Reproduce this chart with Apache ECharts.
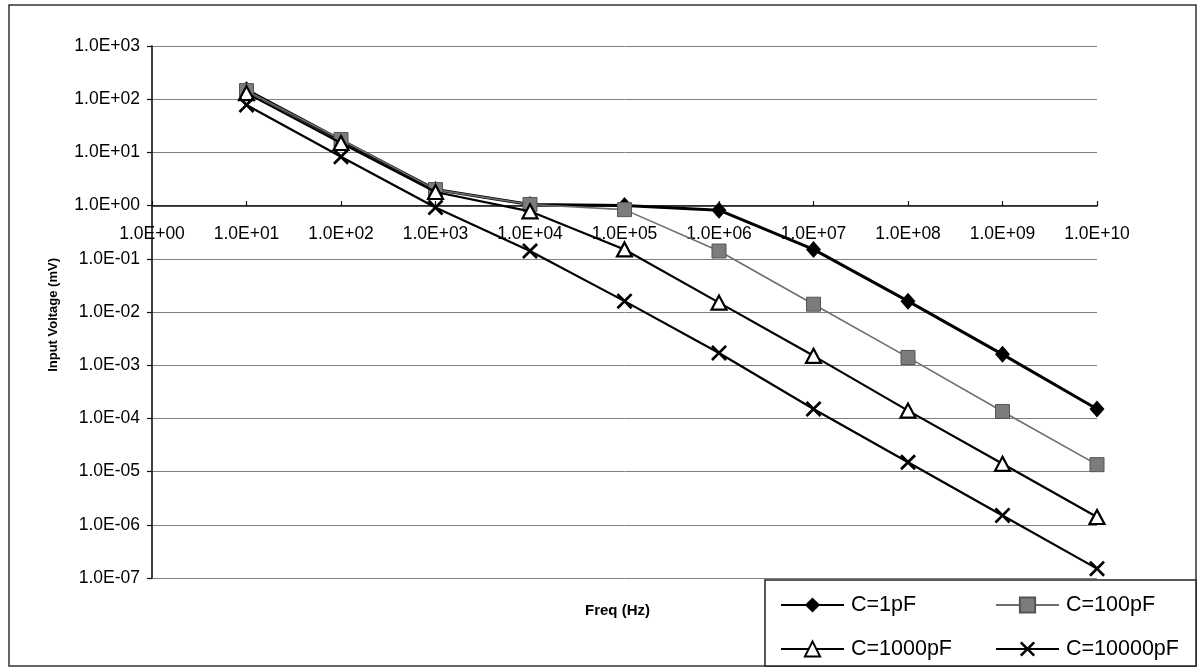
<!DOCTYPE html>
<html>
<head>
<meta charset="utf-8">
<script src="https://cdn.jsdelivr.net/npm/echarts@6/dist/echarts.min.js"></script>
<style>
html,body{margin:0;padding:0;background:#fff;}
#chart{width:1203px;height:672px;}
</style>
</head>
<body>
<div id="chart"></div>
<script>
// ---- data ----
const freqs = [1e1, 1e2, 1e3, 1e4, 1e5, 1e6, 1e7, 1e8, 1e9, 1e10];
const seriesNames = ['C=1pF', 'C=100pF', 'C=1000pF', 'C=10000pF'];
const c1pF     = [150, 17, 2.0, 1.05, 1.0, 0.82, 0.15, 0.016, 0.0016, 0.00015];
const c100pF   = [145, 17.5, 2.0, 1.05, 0.84, 0.14, 0.014, 0.0014, 0.000135, 0.0000135];
const c1000pF  = [130, 15, 1.8, 0.78, 0.15, 0.015, 0.0015, 0.00014, 0.000014, 0.0000014];
const c10000pF = [78, 8.3, 0.92, 0.14, 0.016, 0.0017, 0.00015, 0.000015, 0.0000015, 0.00000015];
const xTickLabels = ['1.0E+00','1.0E+01','1.0E+02','1.0E+03','1.0E+04','1.0E+05','1.0E+06','1.0E+07','1.0E+08','1.0E+09','1.0E+10'];
const yTickLabels = ['1.0E-07','1.0E-06','1.0E-05','1.0E-04','1.0E-03','1.0E-02','1.0E-01','1.0E+00','1.0E+01','1.0E+02','1.0E+03'];
const xAxisTitle = 'Freq (Hz)';
const yAxisTitle = 'Input Voltage (mV)';

const FONT = "'Liberation Sans', Arial, sans-serif";
function pairs(vals){ return freqs.map((f,i)=>[f, vals[i]]); }
function expOf(v){ return Math.round(Math.log10(v)); }

const chart = echarts.init(document.getElementById('chart'), null, {renderer:'canvas'});
const xPath = 'path://M0,1.2 L1.2,0 L5,3.8 L8.8,0 L10,1.2 L6.2,5 L10,8.8 L8.8,10 L5,6.2 L1.2,10 L0,8.8 L3.8,5 Z';

const option = {
  backgroundColor: '#ffffff',
  animation: false,
  grid: { left: 152, right: 106, top: 46, bottom: 94, containLabel: false },
  xAxis: {
    type: 'log', logBase: 10, min: 1, max: 1e10, interval: 1,
    position: 'top', offset: -160,
    axisLine: { show: true, lineStyle: { color: '#111', width: 1.6 } },
    axisTick: { show: true, inside: false, length: 5, lineStyle: { color: '#111', width: 1.2 } },
    axisLabel: {
      inside: true, margin: 19, color: '#000', fontFamily: FONT, fontSize: 17.5,
      formatter: v => xTickLabels[expOf(v)]
    },
    splitLine: { show: false },
    minorTick: { show: false }
  },
  yAxis: {
    type: 'log', logBase: 10, min: 1e-7, max: 1e3, interval: 1,
    axisLine: { show: true, lineStyle: { color: '#111', width: 1.6 } },
    axisTick: { show: true, inside: false, length: 5, lineStyle: { color: '#111', width: 1.2 } },
    axisLabel: {
      margin: 12, color: '#000', fontFamily: FONT, fontSize: 17.5,
      formatter: v => yTickLabels[expOf(v) + 7]
    },
    splitLine: { show: true, lineStyle: { color: '#7f7f7f', width: 1 } }
  },
  legend: [
    {
      data: [seriesNames[0], seriesNames[2]], orient: 'vertical',
      left: 775, top: 589, itemWidth: 63, itemHeight: 19, itemGap: 22,
      textStyle: { fontFamily: FONT, fontSize: 21.5, color: '#000', padding: [0,0,0,2] },
      z: 10
    },
    {
      data: [seriesNames[1], seriesNames[3]], orient: 'vertical',
      left: 990, top: 589, itemWidth: 63, itemHeight: 19, itemGap: 22,
      textStyle: { fontFamily: FONT, fontSize: 21.5, color: '#000', padding: [0,0,0,2] },
      z: 10
    }
  ],
  graphic: [
    { type: 'rect', shape: { x: 9, y: 5, width: 1187, height: 661 }, style: { fill: 'none', stroke: '#333', lineWidth: 1.5 }, z: 0, silent: true },
    { type: 'rect', shape: { x: 765, y: 580, width: 431, height: 86 }, style: { fill: '#fff', stroke: '#222', lineWidth: 1.5 }, z: 5, silent: true },
    { type: 'text', left: 585, top: 603, style: { text: xAxisTitle, font: "bold 15px 'Liberation Sans', Arial, sans-serif", fill: '#000' }, z: 6 },
    { type: 'text', left: 47, top: 258, rotation: Math.PI/2, style: { text: yAxisTitle, font: "bold 13px 'Liberation Sans', Arial, sans-serif", fill: '#000' }, z: 6 }
  ],
  series: [
    {
      name: seriesNames[0], type: 'line', data: pairs(c1pF),
      symbol: 'diamond', symbolSize: [15, 17],
      lineStyle: { color: '#000', width: 3 },
      itemStyle: { color: '#000' }, z: 2
    },
    {
      name: seriesNames[1], type: 'line', data: pairs(c100pF),
      symbol: 'rect', symbolSize: 14,
      lineStyle: { color: '#6e6e6e', width: 1.6 },
      itemStyle: { color: '#7c7c7c', borderColor: '#555', borderWidth: 1 }, z: 3
    },
    {
      name: seriesNames[2], type: 'line', data: pairs(c1000pF),
      symbol: 'triangle', symbolSize: [15, 14],
      lineStyle: { color: '#000', width: 2.2 },
      itemStyle: { color: '#fff', borderColor: '#000', borderWidth: 2.2 }, z: 4
    },
    {
      name: seriesNames[3], type: 'line', data: pairs(c10000pF),
      symbol: xPath, symbolSize: 16,
      lineStyle: { color: '#000', width: 2.2 },
      itemStyle: { color: '#000' }, z: 5
    }
  ]
};
chart.setOption(option);
</script>
</body>
</html>
